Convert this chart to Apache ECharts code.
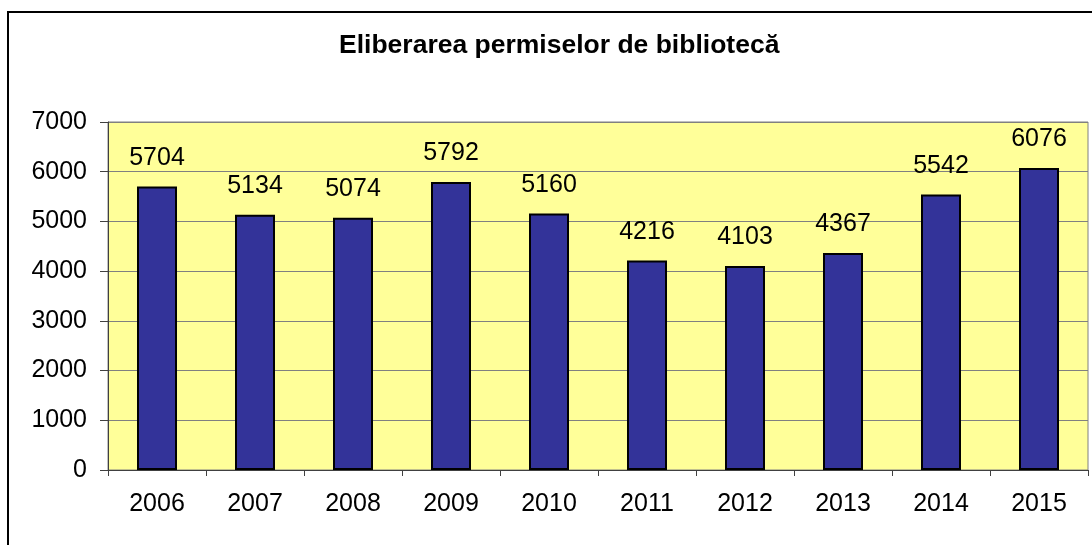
<!DOCTYPE html>
<html>
<head>
<meta charset="utf-8">
<script src="https://cdn.jsdelivr.net/npm/echarts@6/dist/echarts.min.js"></script>
<style>
    html, body { margin: 0; padding: 0; background: #fff; }
    #chart { width: 1092px; height: 545px; }
</style>
</head>
<body>
<div id="chart"></div>
<script>
// date
const years = ['2006', '2007', '2008', '2009', '2010', '2011', '2012', '2013', '2014', '2015']
const permits = [5704, 5134, 5074, 5792, 5160, 4216, 4103, 4367, 5542, 6076]
const yTicks = { min: 0, max: 7000, interval: 1000 }

const myChart = echarts.init(document.getElementById('chart'))
const font = 'Liberation Sans, Arial, sans-serif'

const options = {
    animation: false,
    backgroundColor: '#fff',
    title: {
        text: 'Eliberarea permiselor de bibliotecă',
        left: 334,
        top: 27,
        textStyle: {
            fontFamily: font,
            fontWeight: 'bold',
            fontSize: 26.5,
            color: '#000'
        }
    },
    graphic: [
        {
            type: 'rect',
            shape: { x: 8, y: 12, width: 2000, height: 2000 },
            style: { fill: 'none', stroke: '#000', lineWidth: 2 },
            silent: true
        }
    ],
    grid: {
        left: 108,
        right: 4,
        top: 122,
        bottom: 75,
        show: true,
        backgroundColor: '#FFFF99',
        borderColor: '#808080',
        borderWidth: 1
    },
    xAxis: {
        type: 'category',
        data: years,
        axisLine: { lineStyle: { color: '#404040', width: 1 } },
        axisTick: { show: true, length: 6, inside: false, lineStyle: { color: '#404040' } },
        axisLabel: {
            margin: 22,
            fontFamily: font,
            fontSize: 25,
            color: '#000'
        }
    },
    yAxis: {
        type: 'value',
        min: yTicks.min,
        max: yTicks.max,
        interval: yTicks.interval,
        axisLine: { show: true, lineStyle: { color: '#404040', width: 1 } },
        axisTick: { show: true, length: 8, lineStyle: { color: '#404040' } },
        splitLine: { show: true, lineStyle: { color: '#808080', width: 1 } },
        axisLabel: {
            margin: 21,
            fontFamily: font,
            fontSize: 25,
            color: '#000',
            formatter: v => String(v)
        }
    },
    series: [
        {
            name: 'permise',
            type: 'bar',
            data: permits,
            barWidth: 40,
            itemStyle: {
                color: '#333399',
                borderColor: '#000',
                borderWidth: 2
            },
            label: {
                show: true,
                position: 'top',
                distance: 16,
                fontFamily: font,
                fontSize: 25,
                color: '#000'
            }
        }
    ]
}
myChart.setOption(options)
</script>
</body>
</html>
